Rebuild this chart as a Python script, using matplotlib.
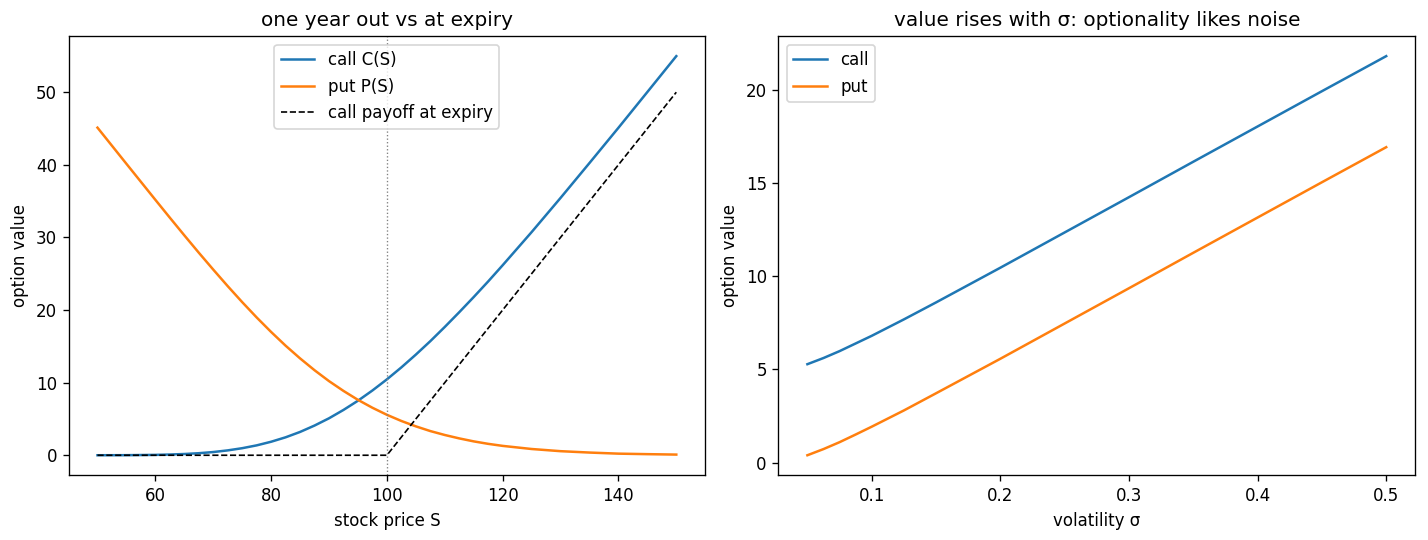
import matplotlib
matplotlib.use("Agg")
import matplotlib.pyplot as plt

# left panel: option value vs stock price
stock_price = [50, 55, 60, 62.5, 65, 67.5, 70, 72.5, 75, 77.5, 80, 82.5, 85, 87.5,
               90, 92.5, 95, 97.5, 100, 102.5, 105, 107.5, 110, 112.5, 115, 117.5,
               120, 125, 130, 135, 140, 145, 150]
call_value = [0.00, 0.01, 0.05, 0.10, 0.17, 0.28, 0.44, 0.67, 0.97, 1.36, 1.86, 2.47,
              3.21, 4.09, 5.09, 6.24, 7.51, 8.92, 10.45, 12.10, 13.86, 15.71, 17.67,
              19.70, 21.79, 23.94, 26.17, 30.73, 35.44, 40.25, 45.10, 50.03, 54.97]
put_value = [45.12, 40.14, 35.18, 32.72, 30.29, 27.90, 25.57, 23.29, 21.09, 18.98,
             16.98, 15.09, 13.34, 11.71, 10.21, 8.86, 7.63, 6.54, 5.57, 4.72, 3.98,
             3.33, 2.79, 2.32, 1.91, 1.57, 1.29, 0.86, 0.56, 0.37, 0.22, 0.15, 0.09]
payoff_s = [50, 100, 150]
payoff_v = [0, 0, 50]
strike = 100

# right panel: option value vs volatility
sigma = [0.05, 0.0625, 0.075, 0.0875, 0.10, 0.125, 0.15, 0.20, 0.25, 0.30,
         0.35, 0.40, 0.45, 0.50]
call_sigma = [5.28, 5.61, 5.98, 6.39, 6.80, 7.68, 8.59, 10.45, 12.34, 14.23,
              16.13, 18.02, 19.91, 21.79]
put_sigma = [0.40, 0.73, 1.10, 1.51, 1.93, 2.80, 3.72, 5.57, 7.46, 9.35,
             11.25, 13.14, 15.03, 16.91]

fig, (ax1, ax2) = plt.subplots(1, 2, figsize=(11.9, 4.5), dpi=120)

ax1.plot(stock_price, call_value, label="call C(S)")
ax1.plot(stock_price, put_value, label="put P(S)")
ax1.plot(payoff_s, payoff_v, "k--", lw=1, label="call payoff at expiry")
ax1.axvline(strike, color="gray", ls=":", lw=0.8)
ax1.set_xlabel("stock price S")
ax1.set_ylabel("option value")
ax1.set_title("one year out vs at expiry")
ax1.legend(loc="upper center")

ax2.plot(sigma, call_sigma, label="call")
ax2.plot(sigma, put_sigma, label="put")
ax2.set_xlabel("volatility σ")
ax2.set_ylabel("option value")
ax2.set_title("value rises with σ: optionality likes noise")
ax2.legend(loc="upper left")

fig.subplots_adjust(left=0.048, right=0.991, top=0.933, bottom=0.12, wspace=0.115)
plt.savefig("out.png")
